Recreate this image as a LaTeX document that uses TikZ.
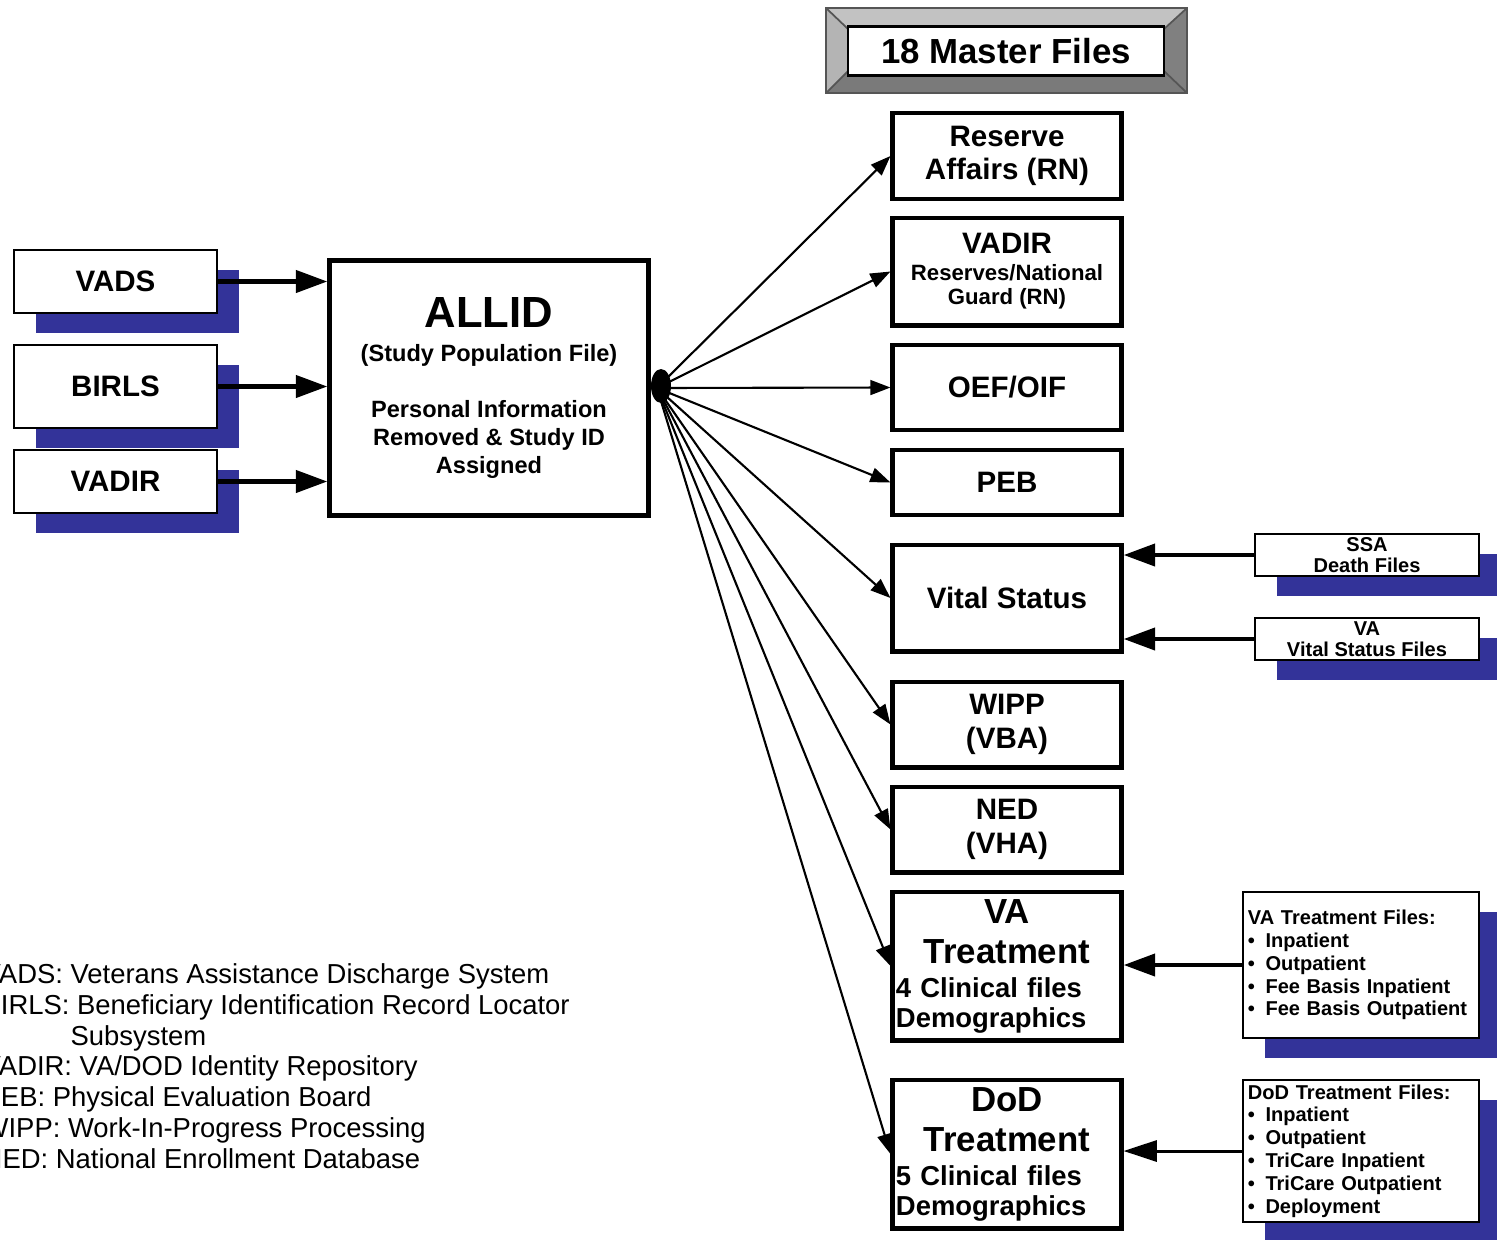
\documentclass[tikz,border=0pt]{standalone}
\usepackage{fontspec}
\setmainfont{Liberation Sans}
\usetikzlibrary{arrows.meta,shadows}
\setlength\parindent{0pt}
\definecolor{shadowc}{HTML}{333399}
\definecolor{bevellight}{HTML}{C2C2C2}
\definecolor{bevelside}{HTML}{B4B4B4}
\definecolor{beveldark}{HTML}{808080}
\definecolor{bevelline}{HTML}{555555}
\newcommand{\labf}{\fontsize{8.4}{9.5}\selectfont}
\newcommand{\treatf}{\fontsize{9.9}{11}\selectfont}
\newcommand{\listdot}{\textbullet\hspace{3pt}}
\tikzset{
  blueshadow/.style={drop shadow={shadow xshift=0.22cm, shadow yshift=-0.2cm, fill=shadowc, opacity=1}},
  srcbox/.style={draw, line width=0.45pt, fill=white, minimum width=2.03cm, blueshadow, font=\bfseries\labf},
  filebox/.style={draw, line width=1.4pt, fill=white, minimum width=2.28cm, align=center, font=\bfseries\labf},
  treatbox/.style={filebox, minimum height=1.48cm, text width=2.22cm, inner xsep=0.03cm, inner ysep=0.05cm, align=left, font=\bfseries\fontsize{7.8}{8.5}\selectfont},
  listbox/.style={draw, line width=0.45pt, fill=white, blueshadow, inner xsep=0.05cm},
  thinarrow/.style={-{Triangle[length=5.7pt,width=4.2pt]}, line width=0.6pt},
  thickarrow/.style={-{Triangle[length=9pt,width=6.2pt]}, line width=1.4pt},
}

\begin{document}
\begin{tikzpicture}[x=0.01cm, y=-0.01cm]
\useasboundingbox (0,0) rectangle (1497,1239);
% banner
\fill[bevellight] (826,8) -- (1187,8) -- (1164,29) -- (848,29) -- cycle;
\fill[bevelside] (826,8) -- (848,29) -- (848,71) -- (826,93) -- cycle;
\fill[beveldark] (1187,8) -- (1164,29) -- (1164,71) -- (1187,93) -- cycle;
\fill[beveldark!95!black] (826,93) -- (848,71) -- (1164,71) -- (1187,93) -- cycle;
\draw[bevelline, line width=0.5pt] (826,8) rectangle (1187,93) (826,8) -- (848,29) (1187,8) -- (1164,29) (826,93) -- (848,71) (1187,93) -- (1164,71);
\node[draw, line width=0.6pt, fill=white, minimum width=3.16cm, minimum height=0.42cm, font=\bfseries\fontsize{9.9}{11}\selectfont] (master) at (1006,51) {18 Master Files};

% sources
\node[srcbox, minimum height=0.63cm] (vads) at (115.5,281.5) {VADS};
\node[srcbox, minimum height=0.83cm] (birls) at (115.5,386.5) {BIRLS};
\node[srcbox, minimum height=0.63cm] (vadir) at (115.5,481.5) {VADIR};

\node[draw, line width=1.4pt, minimum width=3.18cm, minimum height=2.54cm, align=center, font=\bfseries\fontsize{6.7}{8}\selectfont] (allid) at (489,388)
  {\fontsize{12.4}{14}\selectfont ALLID\\[1.6pt] (Study Population File)\\[7.9pt] Personal Information\\ Removed \& Study ID\\ Assigned};

% master files
\node[filebox, minimum height=0.86cm] (rn) at (1007,156) {Reserve\\ Affairs (RN)};
\node[filebox, minimum height=1.07cm, font=\bfseries\fontsize{8.4}{6.8}\selectfont] (vadirrn) at (1007,271.5)
  {VADIR\\[0.9pt] \fontsize{6.3}{7}\selectfont Reserves/National\\ \fontsize{6.3}{7}\selectfont Guard (RN)};
\node[filebox, minimum height=0.85cm] (oef) at (1007,387.5) {OEF/OIF};
\node[filebox, minimum height=0.65cm] (peb) at (1007,482.5) {PEB};
\node[filebox, minimum height=1.06cm] (vital) at (1007,598) {Vital Status};
\node[filebox, minimum height=0.85cm] (wipp) at (1007,724.5) {WIPP\\ (VBA)};
\node[filebox, minimum height=0.85cm] (ned) at (1007,829.5) {NED\\ (VHA)};
\node[treatbox] (vatreat) at (1007,966)
  {\makebox[\hsize]{\treatf VA}\\[2.9pt] \makebox[\hsize]{\treatf Treatment}\\[1.2pt] 4 Clinical files\\ Demographics};
\node[treatbox] (dodtreat) at (1007,1154)
  {\makebox[\hsize]{\treatf DoD}\\[2.9pt] \makebox[\hsize]{\treatf Treatment}\\[1.2pt] 5 Clinical files\\ Demographics};

% right-hand inputs
\node[listbox, minimum width=2.24cm, minimum height=0.42cm, inner ysep=0pt, align=center, font=\bfseries\fontsize{5.7}{5.9}\selectfont] (ssa) at (1367,555) {SSA\\ Death Files};
\node[listbox, minimum width=2.24cm, minimum height=0.42cm, inner ysep=0pt, align=center, font=\bfseries\fontsize{5.7}{5.9}\selectfont] (vsf) at (1367,639) {VA\\ Vital Status Files};
\node[listbox, minimum width=2.36cm, minimum height=1.46cm, text width=2.26cm, align=left, font=\bfseries\fontsize{5.7}{6.5}\selectfont] (vatf) at (1361,965)
  {VA Treatment Files:\\ \listdot Inpatient\\ \listdot Outpatient\\ \listdot Fee Basis Inpatient\\ \listdot Fee Basis Outpatient};
\node[listbox, minimum width=2.36cm, minimum height=1.42cm, text width=2.26cm, inner ysep=0.03cm, align=left, font=\bfseries\fontsize{5.7}{6.5}\selectfont] (dodtf) at (1361,1151)
  {DoD Treatment Files:\\ \listdot Inpatient\\ \listdot Outpatient\\ \listdot TriCare Inpatient\\ \listdot TriCare Outpatient\\ \listdot Deployment};

% connectors
\foreach \s in {vads,birls,vadir}
  \draw[thickarrow] (\s.east) -- (\s.east -| allid.west);
\coordinate (hub) at (657,388);
\foreach \t in {rn,vadirrn,oef,peb,vital,wipp,ned,vatreat,dodtreat}
  \draw[thinarrow] (hub) -- (\t.west);
\fill (661,386) ellipse (10 and 17);
\draw[thickarrow] (ssa.west) -- (ssa.west -| vital.east);
\draw[thickarrow] (vsf.west) -- (vsf.west -| vital.east);
\draw[thickarrow] (vatf.west) -- (vatf.west -| vatreat.east);
\draw[-{Triangle[length=9.5pt,width=6pt]}, line width=0.85pt] (dodtf.west) -- (dodtf.west -| dodtreat.east);

% legend
\node[anchor=north west, inner sep=0pt, align=left, font=\fontsize{7.8}{8.74}\selectfont] (legend) at (-18,963)
  {VADS: Veterans Assistance Discharge System\\ BIRLS: Beneficiary Identification Record Locator\\ \hspace*{25pt}Subsystem\\ VADIR: VA/DOD Identity Repository\\ PEB: Physical Evaluation Board\\ WIPP: Work-In-Progress Processing\\ NED: National Enrollment Database};
\end{tikzpicture}
\end{document}
